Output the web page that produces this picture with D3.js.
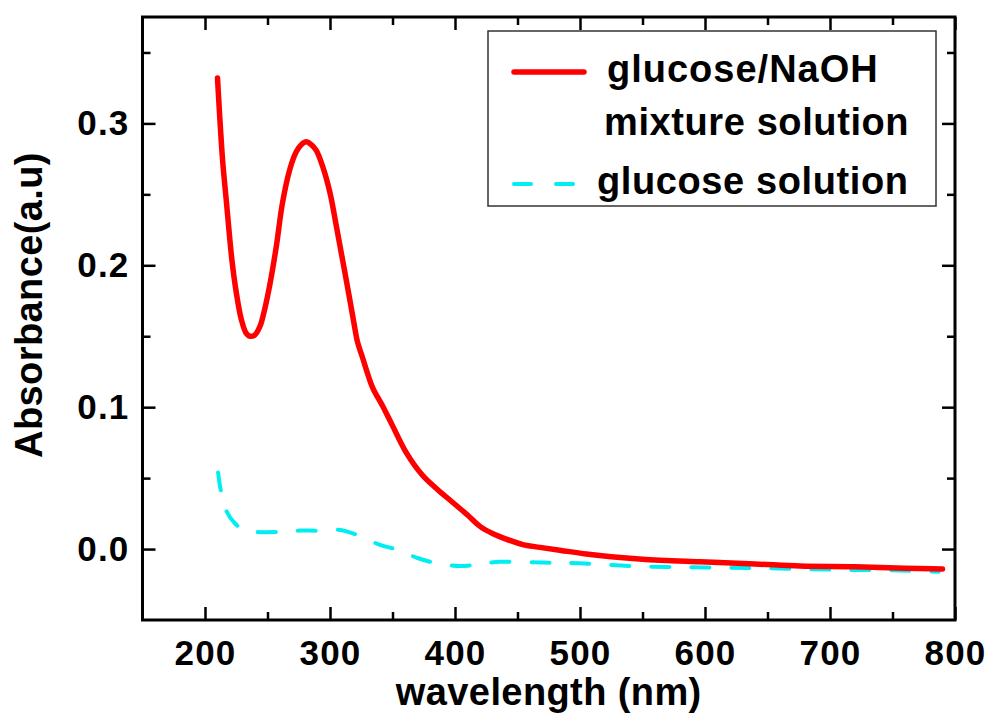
<!DOCTYPE html>
<html>
<head>
<meta charset="utf-8">
<script src="https://cdn.jsdelivr.net/npm/d3@7/dist/d3.min.js"></script>
<style>
  html, body { margin: 0; padding: 0; background: #fff; }
  svg { display: block; }
  text { font-family: "Liberation Sans", Arial, Helvetica, sans-serif; font-weight: bold; fill: #000; }
</style>
</head>
<body>
<svg id="chart" width="987" height="716"></svg>
<script>
// ---- Data ----
const mixtureWavelength = [210, 214, 217, 221.5, 225, 229, 233, 236, 240, 244, 248, 252, 257, 262, 268, 273, 277, 281, 285, 289, 294, 300, 305, 310, 315, 319, 322, 326, 334, 342, 350, 361, 374, 386, 398, 410, 420, 430, 441, 455, 468, 485, 505, 525, 550, 596, 640, 676, 720, 760, 790];
const mixtureAbsorbance = [0.332, 0.275, 0.246, 0.204, 0.181, 0.162, 0.152, 0.150, 0.151, 0.157, 0.170, 0.187, 0.213, 0.244, 0.268, 0.280, 0.285, 0.287, 0.285, 0.281, 0.270, 0.251, 0.228, 0.204, 0.180, 0.160, 0.146, 0.135, 0.114, 0.101, 0.087, 0.068, 0.052, 0.042, 0.033, 0.024, 0.016, 0.011, 0.007, 0.003, 0.0012, -0.001, -0.0035, -0.0055, -0.0072, -0.009, -0.0105, -0.012, -0.0125, -0.0135, -0.014];

const glucoseWavelength = [210.5, 212.5, 217, 224, 232, 242, 258, 276, 290, 308, 322, 340, 354, 370, 385, 404, 420, 436, 470, 500, 542, 600, 650, 700, 750, 787];
const glucoseAbsorbance = [0.054, 0.042, 0.027, 0.018, 0.013, 0.012, 0.012, 0.013, 0.013, 0.0135, 0.0099, 0.003, -0.0005, -0.0063, -0.0099, -0.012, -0.0106, -0.009, -0.0095, -0.010, -0.012, -0.013, -0.0135, -0.0145, -0.015, -0.016];

const xMajorTicks = [200, 300, 400, 500, 600, 700, 800];
const xMinorTicks = [250, 350, 450, 550, 650, 750];
const yMajorTicks = [0.0, 0.1, 0.2, 0.3];
const yMinorTicks = [0.05, 0.15, 0.25, 0.35];
const seriesNames = ["glucose/NaOH", "mixture solution", "glucose solution"];
const xTitle = "wavelength (nm)";
const yTitle = "Absorbance(a.u)";

// ---- Layout ----
const svg = d3.select("#chart");
const L = 142.5, R = 955, T = 17, B = 620;

const x = d3.scaleLinear().domain([150, 800]).range([L, R]);
const y = d3.scaleLinear().domain([-0.05, 0.375]).range([B, T]);

const mixture = mixtureWavelength.map((w, i) => [w, mixtureAbsorbance[i]]);
const glucose = glucoseWavelength.map((w, i) => [w, glucoseAbsorbance[i]]);

const line = d3.line().x(d => x(d[0])).y(d => y(d[1])).curve(d3.curveCatmullRom.alpha(0.5));

// curves
svg.append("path").datum(glucose)
  .attr("d", line).attr("fill", "none")
  .attr("stroke", "#00eef2").attr("stroke-width", 4)
  .attr("stroke-dasharray", "18,22").attr("stroke-linecap", "round");

svg.append("path").datum(mixture)
  .attr("d", line).attr("fill", "none")
  .attr("stroke", "#ff0000").attr("stroke-width", 5.5)
  .attr("stroke-linejoin", "round").attr("stroke-linecap", "round");

// axes
function styleAxis(g) {
  g.select(".domain").remove();
  g.selectAll(".tick line").attr("stroke", "#000").attr("stroke-width", 2.5);
  g.selectAll(".tick text").style("font-size", "35px").style("font-weight", "bold")
    .style("letter-spacing", "1.2px")
    .style("font-family", '"Liberation Sans", Arial, sans-serif').attr("fill", "#000");
}
const fmtY = d3.format(".1f");

svg.append("g").attr("transform", `translate(0,${B})`)
  .call(d3.axisBottom(x).tickValues(xMajorTicks).tickSize(-13).tickPadding(20).tickFormat(d3.format("d")))
  .call(styleAxis);
svg.append("g").attr("transform", `translate(0,${B})`)
  .call(d3.axisBottom(x).tickValues(xMinorTicks).tickSize(-8).tickFormat(""))
  .call(styleAxis);
svg.append("g").attr("transform", `translate(0,${T})`)
  .call(d3.axisTop(x).tickValues(xMajorTicks).tickSize(-13).tickFormat(""))
  .call(styleAxis);
svg.append("g").attr("transform", `translate(0,${T})`)
  .call(d3.axisTop(x).tickValues(xMinorTicks).tickSize(-8).tickFormat(""))
  .call(styleAxis);

svg.append("g").attr("transform", `translate(${L},0)`)
  .call(d3.axisLeft(y).tickValues(yMajorTicks).tickSize(-13).tickPadding(13).tickFormat(fmtY))
  .call(styleAxis);
svg.append("g").attr("transform", `translate(${L},0)`)
  .call(d3.axisLeft(y).tickValues(yMinorTicks).tickSize(-8).tickFormat(""))
  .call(styleAxis);
svg.append("g").attr("transform", `translate(${R},0)`)
  .call(d3.axisRight(y).tickValues(yMajorTicks).tickSize(-13).tickFormat(""))
  .call(styleAxis);
svg.append("g").attr("transform", `translate(${R},0)`)
  .call(d3.axisRight(y).tickValues(yMinorTicks).tickSize(-8).tickFormat(""))
  .call(styleAxis);

// frame
svg.append("rect").attr("x", L).attr("y", T).attr("width", R - L).attr("height", B - T)
  .attr("fill", "none").attr("stroke", "#000").attr("stroke-width", 3);

// axis titles
svg.append("text").attr("x", (L + R) / 2).attr("y", 705)
  .attr("text-anchor", "middle").style("font-size", "38px").style("letter-spacing", "0.4px").text(xTitle);
svg.append("text").attr("transform", "translate(42,305) rotate(-90)")
  .attr("text-anchor", "middle").style("font-size", "38px").style("letter-spacing", "0.4px").text(yTitle);

// legend
const lg = svg.append("g");
lg.append("rect").attr("x", 488).attr("y", 31).attr("width", 448).attr("height", 175)
  .attr("fill", "#fff").attr("stroke", "#333").attr("stroke-width", 1.5);
lg.append("line").attr("x1", 514).attr("x2", 584).attr("y1", 72).attr("y2", 72)
  .attr("stroke", "#ff0000").attr("stroke-width", 5.5).attr("stroke-linecap", "round");
lg.append("line").attr("x1", 514).attr("x2", 576).attr("y1", 184).attr("y2", 184)
  .attr("stroke", "#00eef2").attr("stroke-width", 4).attr("stroke-linecap", "round")
  .attr("stroke-dasharray", "17,25");
lg.append("text").attr("x", 607).attr("y", 82).style("font-size", "38px").style("letter-spacing", "1px").text(seriesNames[0]);
lg.append("text").attr("x", 604).attr("y", 135).style("font-size", "38px").style("letter-spacing", "0.6px").text(seriesNames[1]);
lg.append("text").attr("x", 597).attr("y", 194).style("font-size", "38px").style("letter-spacing", "0.6px").text(seriesNames[2]);
</script>
</body>
</html>
